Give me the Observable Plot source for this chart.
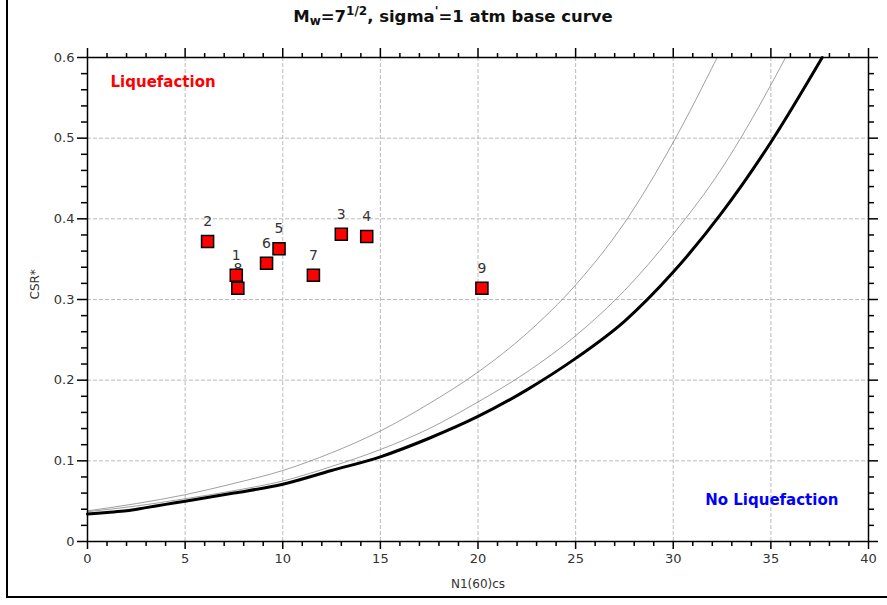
<!DOCTYPE html>
<html>
<head>
<meta charset="utf-8">
<script src="https://cdn.jsdelivr.net/npm/d3@7"></script>
<script src="https://cdn.jsdelivr.net/npm/@observablehq/plot@0.6"></script>
<style>
  html, body { margin: 0; padding: 0; background: #fff; overflow: hidden; }
  #wrap { position: relative; width: 887px; height: 605px; }
  #border { position: absolute; left: 6px; top: -5px; width: 900px; height: 601px;
            border-left: 2px solid #000; border-bottom: 2px solid #000; pointer-events: none; }
  #title { position: absolute; top: 7px; left: 0; width: 906px; text-align: center;
           font-family: "DejaVu Sans", Verdana, sans-serif; font-weight: bold; font-size: 16.5px; color: #111; }
  #title sub { font-size: 12px; vertical-align: -3px; line-height: 0; }
  #title sup { font-size: 12px; vertical-align: 7px; line-height: 0; }
  #chart { position: absolute; left: 0; top: 0; }
</style>
</head>
<body>
<div id="wrap">
  <div id="chart"></div>
  <div id="title">M<sub>w</sub>=7<sup>1/2</sup>, sigma<sup>'</sup>=1 atm base curve</div>
  <div id="border"></div>
</div>
<script>
// Site points
const pointIds  = ["1", "2", "3", "4", "5", "6", "7", "8", "9"];
const pointN    = [7.62, 6.15, 13.0, 14.3, 9.81, 9.17, 11.57, 7.70, 20.2];
const pointCSR  = [0.330, 0.372, 0.381, 0.378, 0.363, 0.345, 0.330, 0.314, 0.314];

// Base curve (bold)
const baseN   = [0, 1, 2, 3, 4, 5, 7.5, 10, 12.5, 15, 17.5, 20, 22.5, 25, 27.5, 30, 32.5, 35, 37.63];
const baseCSR = [0.034, 0.036, 0.038, 0.042, 0.046, 0.050, 0.060, 0.071, 0.088, 0.105, 0.128, 0.155, 0.188, 0.227, 0.273, 0.334, 0.408, 0.495, 0.600];

// Middle thin curve
const midN   = [0, 2.5, 5, 7.5, 10, 12.5, 15, 17.5, 20, 22.5, 25, 27.5, 30, 32.5, 35, 35.75];
const midCSR = [0.037, 0.044, 0.053, 0.063, 0.075, 0.093, 0.114, 0.140, 0.173, 0.210, 0.255, 0.311, 0.381, 0.463, 0.566, 0.600];

// Upper thin curve
const upN   = [0, 2.5, 5, 7.5, 10, 12.5, 15, 17.5, 20, 22.5, 25, 27.5, 30, 32.25];
const upCSR = [0.038, 0.047, 0.058, 0.072, 0.088, 0.110, 0.137, 0.171, 0.210, 0.258, 0.318, 0.395, 0.495, 0.600];

// Region labels
const regionText   = ["Liquefaction", "No Liquefaction"];
const regionN      = [1.18, 38.46];
const regionCSR    = [0.570, 0.051];
const regionColor  = ["#ff0000", "#0000ff"];
const regionAnchor = ["start", "end"];

// Axis titles
const xTitle = "N1(60)cs";
const yTitle = "CSR*";

// Ticks
const xMajor = [0, 5, 10, 15, 20, 25, 30, 35, 40];
const xMinor = d3.range(0, 41, 1).filter(v => v % 5 !== 0);
const yMajor = [0, 0.1, 0.2, 0.3, 0.4, 0.5, 0.6];
const yMinor = d3.range(0, 31, 1).filter(v => v % 5 !== 0).map(v => v * 0.02);
const xGrid = [5, 10, 15, 20, 25, 30, 35];
const yGrid = [0.1, 0.2, 0.3, 0.4, 0.5];

const points = pointIds.map((id, i) => ({id, n: pointN[i], csr: pointCSR[i]}));
const mk = (ns, cs) => ns.map((n, i) => ({n, csr: cs[i]}));
const base = mk(baseN, baseCSR), mid = mk(midN, midCSR), up = mk(upN, upCSR);
const regions = regionText.map((t, i) => ({t, n: regionN[i], csr: regionCSR[i], c: regionColor[i], a: regionAnchor[i]}));

const font = "DejaVu Sans, Verdana, sans-serif";
const axStyle = {stroke: "#000", strokeWidth: 1.5, label: null};
const plot = Plot.plot({
  width: 887, height: 605,
  marginLeft: 87, marginRight: 19, marginTop: 57, marginBottom: 64,
  style: {fontFamily: font, fontSize: "13px", color: "#333", background: "transparent"},
  x: {domain: [0, 40]},
  y: {domain: [0, 0.6]},
  marks: [
    Plot.gridX(xGrid, {stroke: "#aaa", strokeOpacity: 0.8, strokeDasharray: "4,2"}),
    Plot.gridY(yGrid, {stroke: "#aaa", strokeOpacity: 0.8, strokeDasharray: "4,2"}),
    Plot.line(up, {x: "n", y: "csr", stroke: "#888", strokeWidth: 0.8, curve: "monotone-x"}),
    Plot.line(mid, {x: "n", y: "csr", stroke: "#888", strokeWidth: 0.8, curve: "monotone-x"}),
    Plot.line(base, {x: "n", y: "csr", stroke: "#000", strokeWidth: 3, curve: "monotone-x"}),
    Plot.axisX({anchor: "bottom", ticks: xMajor, tickSize: 8, tickPadding: 4, tickFormat: d => String(d), fontSize: 13, ...axStyle}),
    Plot.axisX({anchor: "bottom", ticks: xMinor, tickSize: 5, text: null, ...axStyle}),
    Plot.axisX({anchor: "top", ticks: xMajor, tickSize: 10, text: null, ...axStyle}),
    Plot.axisX({anchor: "top", ticks: xMinor, tickSize: 5, text: null, ...axStyle}),
    Plot.axisY({anchor: "left", ticks: yMajor, tickSize: 10, tickPadding: 3, tickFormat: d => d === 0 ? "0" : d3.format(".1f")(d), fontSize: 13, ...axStyle}),
    Plot.axisY({anchor: "left", ticks: yMinor, tickSize: 6, text: null, ...axStyle}),
    Plot.axisY({anchor: "right", ticks: yMajor, tickSize: 9, text: null, ...axStyle}),
    Plot.axisY({anchor: "right", ticks: yMinor, tickSize: 5, text: null, ...axStyle}),
    Plot.frame({stroke: "#000", strokeWidth: 1.5}),
    Plot.text([xTitle], {text: d => d, frameAnchor: "bottom", dy: 46, fontSize: 12, fill: "#333"}),
    Plot.text([yTitle], {text: d => d, frameAnchor: "left", dx: -52, rotate: -90, fontSize: 12, fill: "#333"}),
    Plot.text(points, {x: "n", y: "csr", text: "id", dy: -20, fontSize: 14, fill: "#333"}),
    Plot.dot(points, {x: "n", y: "csr", symbol: "square", r: 6.8, fill: "#ff0000", stroke: "#000", strokeWidth: 1.5}),
    Plot.text(regions, {x: "n", y: "csr", text: "t", fill: "c", textAnchor: "start", fontSize: 15, fontWeight: "bold", filter: d => d.a === "start"}),
    Plot.text(regions, {x: "n", y: "csr", text: "t", fill: "c", textAnchor: "end", fontSize: 15, fontWeight: "bold", filter: d => d.a === "end"})
  ]
});
document.getElementById("chart").appendChild(plot);
</script>
</body>
</html>
